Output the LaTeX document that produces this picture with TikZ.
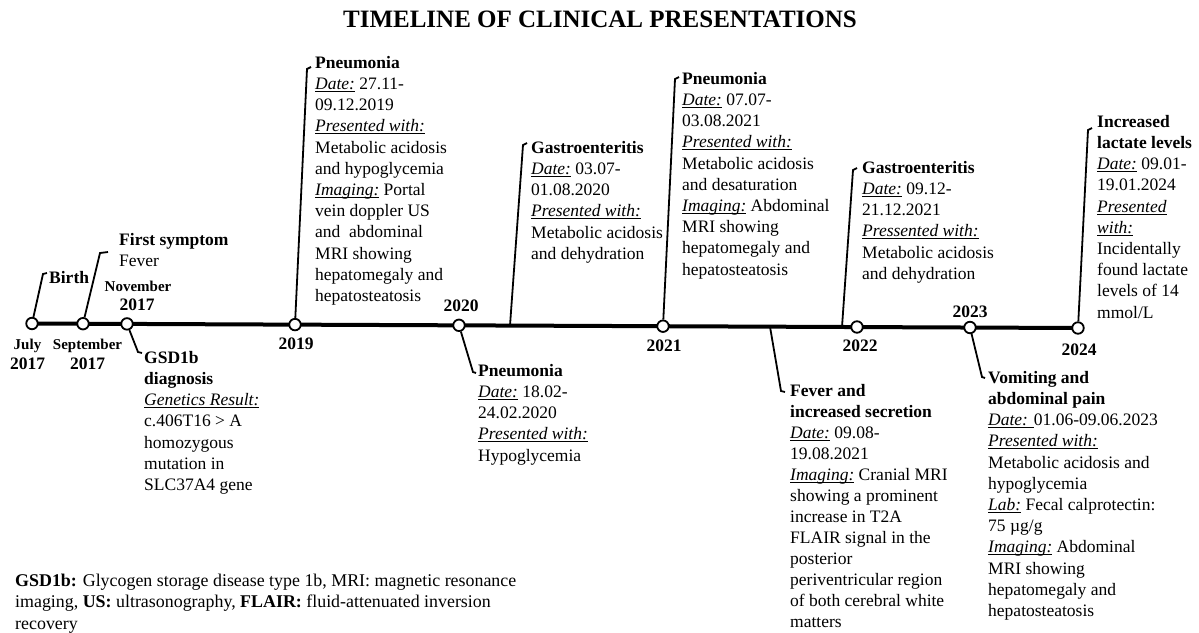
\documentclass[tikz,border=0pt]{standalone}
\usepackage{fontspec}
\setmainfont{Liberation Serif}
\newcommand\ulit[1]{\begingroup\setbox0\hbox{\itshape #1}\rlap{\rule[-2.3pt]{\wd0}{0.8pt}}\box0\endgroup}
\newcommand\mystrut{\rule{0pt}{13pt}}
\begin{document}
\begin{tikzpicture}[x=1pt,y=-1pt,
  blk/.style={anchor=north west,align=left,inner sep=0pt,font=\fontsize{17.5}{21.2}\selectfont},
  yr/.style={anchor=base,inner sep=0pt,font=\fontsize{17.5}{20}\selectfont\bfseries},
  mon/.style={anchor=base,inner sep=0pt,font=\fontsize{15}{18}\selectfont\bfseries},
  dot/.style={circle,draw,fill=white,line width=1.8pt,minimum size=11.5pt,inner sep=0pt},
  conn/.style={line width=1.8pt},
  tl/.style={line width=4pt}]
\useasboundingbox (0,0) rectangle (1199,632);
\fill[white] (0,0) rectangle (1199,632);

\node[anchor=base,inner sep=0pt,font=\fontsize{25}{30}\selectfont\bfseries] (title) at (600,27.5) {TIMELINE OF CLINICAL PRESENTATIONS};

% timeline points
\coordinate (p1) at (32,323.5);
\coordinate (p2) at (83,323.7);
\coordinate (p3) at (127,323.9);
\coordinate (p4) at (295,324.6);
\coordinate (p5) at (459,325.3);
\coordinate (p6) at (663,326.2);
\coordinate (p7) at (857,327.0);
\coordinate (p8) at (970,327.5);
\coordinate (p9) at (1078,328.0);
\coordinate (q1) at (510,325.6);
\coordinate (q2) at (770,326.7);
\coordinate (q3) at (842,327.0);
\draw[tl] (p1) -- (p9);

\foreach \i in {1,...,9} { \node[dot] (c\i) at (p\i) {}; }

% bend and hook coordinates
\coordinate (k1) at (43,274);   \coordinate (h1) at (47,273);
\coordinate (k2) at (100,253);  \coordinate (h2) at (108,252);
\coordinate (k3) at (138,352);  \coordinate (h3) at (142,353);
\coordinate (k4) at (307,69);   \coordinate (h4) at (311,67);
\coordinate (k5) at (523,145);  \coordinate (h5) at (527,143);
\coordinate (k6) at (473,372);  \coordinate (h6) at (476,373);
\coordinate (k7) at (675,79);   \coordinate (h7) at (679,77);
\coordinate (k8) at (781,391);  \coordinate (h8) at (785,392);
\coordinate (k9) at (853,170);  \coordinate (h9) at (857,168);
\coordinate (k10) at (982,377); \coordinate (h10) at (985,378);
\coordinate (k11) at (1088,130);\coordinate (h11) at (1092,128);

\draw[conn] (c1) -- (k1) -- (h1);
\draw[conn] (c2) -- (k2) -- (h2);
\draw[conn] (c3) -- (k3) -- (h3);
\draw[conn] (c4) -- (k4) -- (h4);
\draw[conn] (q1) -- (k5) -- (h5);
\draw[conn] (c5) -- (k6) -- (h6);
\draw[conn] (c6) -- (k7) -- (h7);
\draw[conn] (q2) -- (k8) -- (h8);
\draw[conn] (q3) -- (k9) -- (h9);
\draw[conn] (c8) -- (k10) -- (h10);
\draw[conn] (c9) -- (k11) -- (h11);

% date labels
\node[mon] (mjul) at (27.5,349) {July};
\node[yr] (yjul) at (27.5,369) {2017};
\node[mon] (msep) at (87.5,349) {September};
\node[yr] (ysep) at (87.5,369) {2017};
\node[mon] (mnov) at (138,291) {November};
\node[yr] (ynov) at (137,310) {2017};
\node[yr] (y19) at (296,349) {2019};
\node[yr] (y20) at (461,311) {2020};
\node[yr] (y21) at (664,351) {2021};
\node[yr] (y22) at (860,351) {2022};
\node[yr] (y23) at (970,317) {2023};
\node[yr] (y24) at (1079,355) {2024};

% event texts
\node[blk] (birth) at (49,270) {\mystrut\textbf{Birth}};
\node[blk] (first) at (119,232) {\mystrut\textbf{First symptom}\\ Fever};
\node[blk] (gsd) at (144,350) {\mystrut\textbf{GSD1b}\\ \textbf{diagnosis}\\ \ulit{Genetics Result:}\\ c.406T16 > A\\ homozygous\\ mutation in\\ SLC37A4 gene};
\node[blk] (pn19) at (315,55) {\mystrut\textbf{Pneumonia}\\ \ulit{Date:} 27.11-\\ 09.12.2019\\ \ulit{Presented with:}\\ Metabolic acidosis\\ and hypoglycemia\\ \ulit{Imaging:} Portal\\ vein doppler US\\ and~ abdominal\\ MRI showing\\ hepatomegaly and\\ hepatosteatosis};
\node[blk] (ga20) at (531,140) {\mystrut\textbf{Gastroenteritis}\\ \ulit{Date:} 03.07-\\ 01.08.2020\\ \ulit{Presented with:}\\ Metabolic acidosis\\ and dehydration};
\node[blk] (pn20) at (478,363) {\mystrut\textbf{Pneumonia}\\ \ulit{Date:} 18.02-\\ 24.02.2020\\ \ulit{Presented with:}\\ Hypoglycemia};
\node[blk] (pn21) at (682,71) {\mystrut\textbf{Pneumonia}\\ \ulit{Date:} 07.07-\\ 03.08.2021\\ \ulit{Presented with:}\\ Metabolic acidosis\\ and desaturation\\ \ulit{Imaging:} Abdominal\\ MRI showing\\ hepatomegaly and\\ hepatosteatosis};
\node[blk,font=\fontsize{17.5}{21}\selectfont] (fev) at (790,383) {\mystrut\textbf{Fever and}\\ \textbf{increased secretion}\\ \ulit{Date:} 09.08-\\ 19.08.2021\\ \ulit{Imaging:} Cranial MRI\\ showing a prominent\\ increase in T2A\\ FLAIR signal in the\\ posterior\\ periventricular region\\ of both cerebral white\\ matters};
\node[blk] (ga21) at (862,160) {\mystrut\textbf{Gastroenteritis}\\ \ulit{Date:} 09.12-\\ 21.12.2021\\ \ulit{Pressented with:}\\ Metabolic acidosis\\ and dehydration};
\node[blk] (vom) at (988,370) {\mystrut\textbf{Vomiting and}\\ \textbf{abdominal pain}\\ \ulit{Date: }01.06-09.06.2023\\ \ulit{Presented with:}\\ Metabolic acidosis and\\ hypoglycemia\\ \ulit{Lab:} Fecal calprotectin:\\ 75 µg/g\\ \ulit{Imaging:} Abdominal\\ MRI showing\\ hepatomegaly and\\ hepatosteatosis};
\node[blk] (lac) at (1097,114) {\mystrut\textbf{Increased}\\ \textbf{lactate levels}\\ \ulit{Date:} 09.01-\\ 19.01.2024\\ \ulit{Presented}\\ \ulit{with:}\\ Incidentally\\ found lactate\\ levels of 14\\ mmol/L};

% footnote
\node[blk,font=\fontsize{17.9}{21.5}\selectfont] (fn) at (15,573) {\mystrut\textbf{GSD1b:} Glycogen storage disease type 1b, MRI: magnetic resonance\\ imaging, \textbf{US:} ultrasonography, \textbf{FLAIR:} fluid-attenuated inversion\\ recovery};
\end{tikzpicture}
\end{document}
